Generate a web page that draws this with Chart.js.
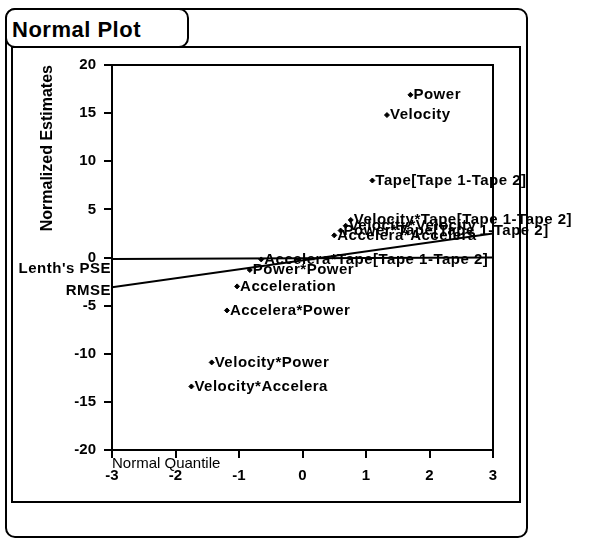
<!DOCTYPE html>
<html>
<head>
<meta charset="utf-8">
<title>Normal Plot</title>
<script src="https://cdn.jsdelivr.net/npm/chart.js@4.4.1/dist/chart.umd.min.js"></script>
<style>
  body { margin: 0; background: #fff; font-family: "Liberation Sans", Arial, sans-serif; }
  .box { position: absolute; border: 2px solid #000; box-sizing: border-box; }
  #outer { left: 5px; top: 8px; width: 523px; height: 530px; border-radius: 10px; }
  #tab { left: 5px; top: 8px; width: 184px; height: 40px; border-radius: 10px; background: #fff;
         font-weight: bold; font-size: 22px; letter-spacing: 0.5px; padding: 7px 0 0 5px; }
  #panel { left: 11px; top: 46px; width: 510px; height: 457px; }
  #chart { position: absolute; left: 0; top: 0; }
</style>
</head>
<body>
<div class="box" id="outer"></div>
<div class="box" id="panel"></div>
<div class="box" id="tab">Normal Plot</div>
<canvas id="chart" width="607" height="542"></canvas>
<script>
// effects, normal quantile (x) and normalized estimate (y)
const effectNames = ["Power", "Velocity", "Tape[Tape 1-Tape 2]", "Velocity*Tape[Tape 1-Tape 2]",
  "Velocity*Velocity", "Power*Tape[Tape 1-Tape 2]", "Accelera*Accelera", "Accelera*Tape[Tape 1-Tape 2]",
  "Power*Power", "Acceleration", "Accelera*Power", "Velocity*Power", "Velocity*Accelera"]
const quantiles = [1.70, 1.33, 1.10, 0.76, 0.68, 0.60, 0.50, -0.65, -0.83, -1.03, -1.19, -1.43, -1.75]
const estimates = [16.9, 14.8, 8.0, 3.9, 3.3, 2.8, 2.3, -0.2, -1.3, -3.0, -5.5, -10.9, -13.4]

// reference lines (ends at the axis limits)
const lineX = [-3, 3]
const pseY = [-0.15, 0.0]
const rmseY = [-3.1, 2.5]
const lineNames = ["Lenth's PSE", "RMSE"]

const xTicks = [-3, -2, -1, 0, 1, 2, 3]
const yTicks = [-20, -15, -10, -5, 0, 5, 10, 15, 20]

const FONT = '"Liberation Sans", Arial, sans-serif'

const toPoints = (xs, ys) => xs.map((x, i) => ({ x: x, y: ys[i] }))

const labelPlugin = {
  id: 'labels',
  afterDraw(chart) {
    const ctx = chart.ctx
    const a = chart.chartArea
    ctx.save()
    // plot frame
    ctx.strokeStyle = '#000'
    ctx.lineWidth = 2
    ctx.strokeRect(a.left, a.top, a.right - a.left, a.bottom - a.top)

    ctx.fillStyle = '#000'
    ctx.textBaseline = 'middle'
    ctx.font = 'bold 15px ' + FONT
    ctx.letterSpacing = '0.5px'
    chart.getDatasetMeta(0).data.forEach((pt, i) => {
      ctx.fillText(effectNames[i], pt.x + 3, pt.y)
    })

    // line names at the left end of each line
    ctx.textAlign = 'right'
    ;[1, 2].forEach((d, i) => {
      const first = chart.getDatasetMeta(d).data[0]
      ctx.fillText(lineNames[i], first.x - 1, first.y + (i == 0 ? 10 : 4))
    })
    ctx.restore()
  }
}

new Chart(document.getElementById('chart'), {
  type: 'scatter',
  data: {
    datasets: [
      {
        label: 'Estimates',
        data: toPoints(quantiles, estimates),
        backgroundColor: '#000',
        borderColor: '#000',
        pointRadius: 2.5,
        pointStyle: 'rectRot'
      },
      {
        label: lineNames[0],
        data: toPoints(lineX, pseY),
        showLine: true,
        borderColor: '#000',
        borderWidth: 2,
        pointRadius: 0
      },
      {
        label: lineNames[1],
        data: toPoints(lineX, rmseY),
        showLine: true,
        borderColor: '#000',
        borderWidth: 2,
        pointRadius: 0
      }
    ]
  },
  options: {
    responsive: false,
    animation: false,
    devicePixelRatio: 1,
    layout: { padding: { left: 0, top: 65, right: 114, bottom: 42 } },
    plugins: { legend: { display: false }, tooltip: { enabled: false } },
    scales: {
      x: {
        type: 'linear',
        min: -3,
        max: 3,
        afterFit: (s) => { s.height = 50 },
        afterBuildTicks: (s) => { s.ticks = xTicks.map(v => ({ value: v })) },
        border: { display: true, color: '#000', width: 2 },
        grid: { drawOnChartArea: false, drawTicks: true, tickLength: 8, color: '#000', lineWidth: 2 },
        ticks: { color: '#000', padding: 9, font: { family: FONT, size: 15, weight: 'bold' }, maxRotation: 0 },
        title: {
          display: true, text: 'Normal Quantile', align: 'start', color: '#000',
          font: { family: FONT, size: 15 }, padding: { top: 0, bottom: 27 }
        }
      },
      y: {
        type: 'linear',
        min: -20,
        max: 20,
        afterFit: (s) => { s.width = 112 },
        afterBuildTicks: (s) => { s.ticks = yTicks.map(v => ({ value: v })) },
        border: { display: true, color: '#000', width: 2 },
        grid: { drawOnChartArea: false, drawTicks: true, tickLength: 8, color: '#000', lineWidth: 2 },
        ticks: { color: '#000', padding: 8, font: { family: FONT, size: 15, weight: 'bold' } },
        title: {
          display: true, text: 'Normalized Estimates', align: 'end', color: '#000',
          font: { family: FONT, size: 16, weight: 'bold' }, padding: { top: 38, bottom: 0 }
        }
      }
    }
  },
  plugins: [labelPlugin]
})
</script>
</body>
</html>
